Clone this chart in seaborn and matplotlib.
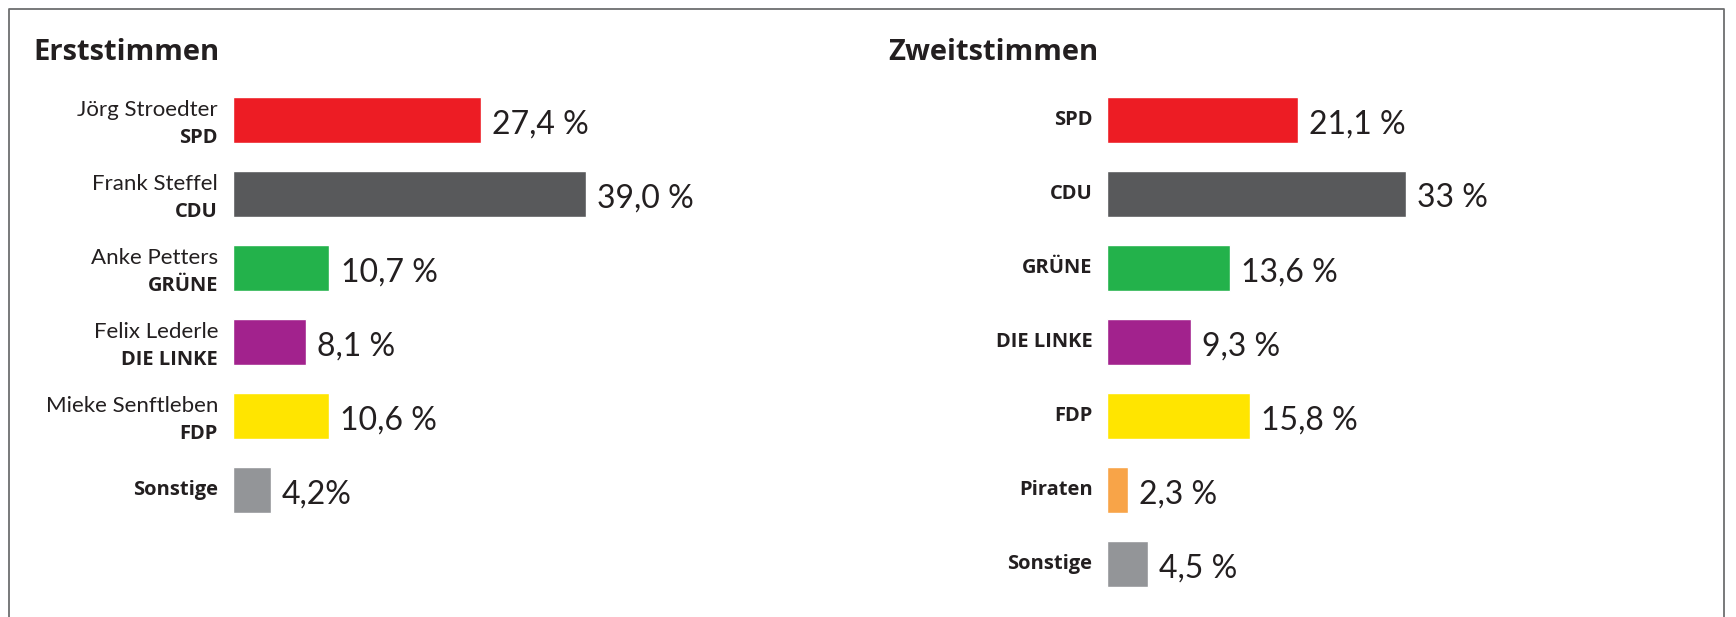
import matplotlib
matplotlib.use("Agg")
import matplotlib.pyplot as plt
import seaborn as sns
from matplotlib.lines import Line2D

sns.set_style("white")

# Erststimmen
erst_names = ["Jörg Stroedter", "Frank Steffel", "Anke Petters", "Felix Lederle", "Mieke Senftleben", ""]
erst_parties = ["SPD", "CDU", "GRÜNE", "DIE LINKE", "FDP", "Sonstige"]
erst_values = [27.4, 39.0, 10.7, 8.1, 10.6, 4.2]
erst_labels = ["27,4 %", "39,0 %", "10,7 %", "8,1 %", "10,6 %", "4,2%"]

# Zweitstimmen
zweit_parties = ["SPD", "CDU", "GRÜNE", "DIE LINKE", "FDP", "Piraten", "Sonstige"]
zweit_values = [21.1, 33.0, 13.6, 9.3, 15.8, 2.3, 4.5]
zweit_labels = ["21,1 %", "33 %", "13,6 %", "9,3 %", "15,8 %", "2,3 %", "4,5 %"]

party_colors = {
    "SPD": "#ed1c24",
    "CDU": "#58595b",
    "GRÜNE": "#23b24b",
    "DIE LINKE": "#a2228d",
    "FDP": "#ffe500",
    "Piraten": "#f8a448",
    "Sonstige": "#939598",
}

txt = "#231f20"
narrow = ["Lato", "DejaVu Sans"]
bold = ["Open Sans", "DejaVu Sans"]

W, H = 1736, 617
fig = plt.figure(figsize=(W / 100, H / 100), dpi=100)

top_px, slot_px = 83, 74
bottom = 1 - (top_px + 7 * slot_px) / H
height = 7 * slot_px / H
ax1 = fig.add_axes([232.5 / W, bottom, 453 / W, height])
ax2 = fig.add_axes([1107 / W, bottom, 453 / W, height])


def draw(ax, parties, values, labels, names=None):
    sns.barplot(x=values, y=parties, hue=parties, palette=party_colors,
                orient="h", width=0.61, ax=ax, legend=False, saturation=1)
    for i, (v, lab) in enumerate(zip(values, labels)):
        ax.annotate(lab, (v, i), xytext=(8, -3), textcoords="offset points",
                    ha="left", va="center", fontsize=23, color=txt, family=narrow)
    for i, p in enumerate(parties):
        if names and names[i]:
            ax.text(-1.6, i - 0.13, names[i], ha="right", va="center",
                    fontsize=16, color=txt, family=narrow)
            ax.text(-1.6, i + 0.24, p, ha="right", va="center",
                    fontsize=14.5, fontweight="bold", color=txt, family=bold)
        else:
            ax.text(-1.6, i, p, ha="right", va="center",
                    fontsize=14.5, fontweight="bold", color=txt, family=bold)
    ax.set_xlim(0, 50)
    ax.set_ylim(6.5, -0.5)
    ax.axis("off")


draw(ax1, erst_parties, erst_values, erst_labels, erst_names)
draw(ax2, zweit_parties, zweit_values, zweit_labels)

fig.text(33 / W, 1 - 60 / H, "Erststimmen", fontsize=21, fontweight="bold",
         color=txt, family=bold, va="baseline")
fig.text(888 / W, 1 - 60 / H, "Zweitstimmen", fontsize=21, fontweight="bold",
         color=txt, family=bold, va="baseline")

# frame (open at the bottom)
fc = "#6d6e70"
x0, x1, y0 = 9 / W, 1724 / W, 1 - 9 / H
fig.add_artist(Line2D([x0, x0, x1, x1], [0, y0, y0, 0], color=fc, lw=1.3,
                      transform=fig.transFigure))

fig.savefig("out.png", dpi=100)
